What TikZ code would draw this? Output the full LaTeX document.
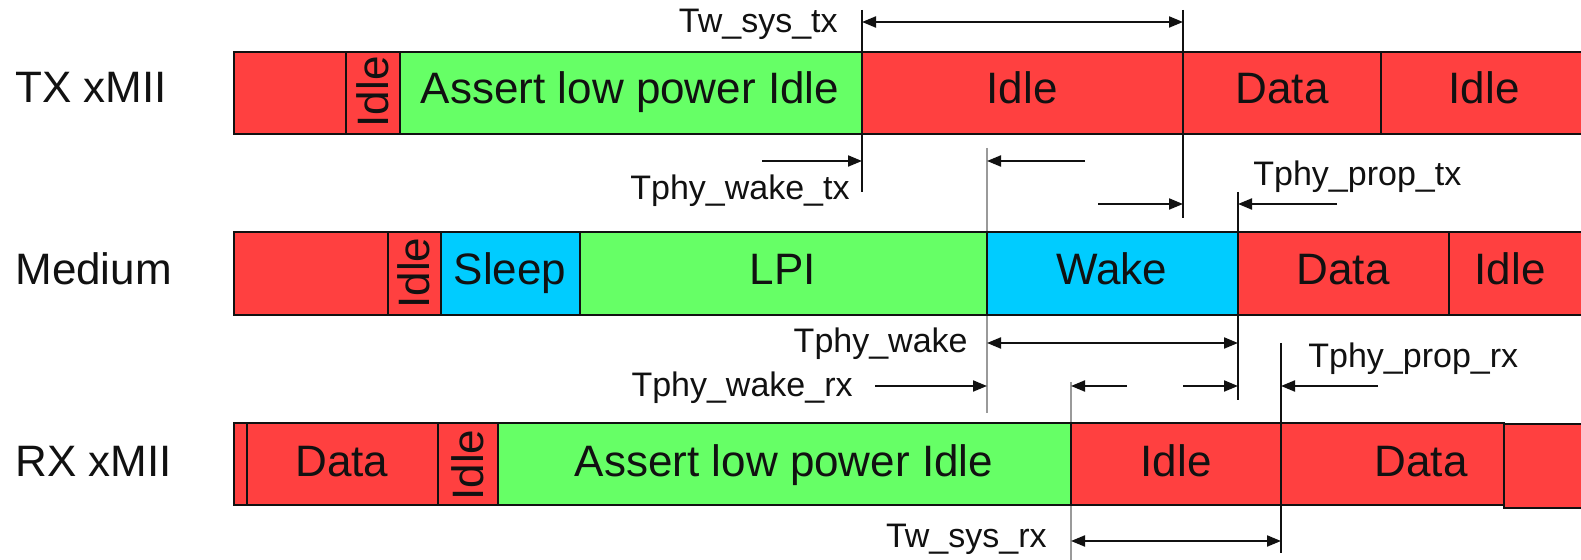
\documentclass[tikz,border=0pt]{standalone}
\usepackage{fontspec}
\setmainfont{Liberation Sans}
\usetikzlibrary{arrows.meta}
\definecolor{idlered}{HTML}{FF4040}
\definecolor{lpigreen}{HTML}{66FF66}
\definecolor{wakecyan}{HTML}{00CCFF}
\definecolor{ink}{HTML}{111111}
\definecolor{guide}{HTML}{9A9A9A}
\newcommand{\boxfont}{\fontsize{22}{26}\selectfont}
\newcommand{\tagfont}{\fontsize{17}{20}\selectfont}

\begin{document}
\begin{tikzpicture}[x=0.5pt,y=-0.5pt,font=\boxfont,
  seg/.style={draw=ink,line width=1pt},
  edge/.style={ink,line width=1pt},
  guideline/.style={guide,line width=1.2pt},
  dim/.style={ink,line width=1pt,-{Triangle[length=7pt,width=5.5pt]}},
  dimboth/.style={ink,line width=1pt,{Triangle[length=7pt,width=5.5pt]}-{Triangle[length=7pt,width=5.5pt]}},
  tag/.style={inner sep=0,font=\tagfont,text=ink},
  lbl/.style={inner sep=0,text=ink}]
\useasboundingbox (0,0) rectangle (1581,560);
% timing marks
\coordinate (t1a) at (862,10);   \coordinate (t1b) at (862,192);
\coordinate (t2a) at (1183,10);  \coordinate (t2b) at (1183,218);
\coordinate (g1a) at (987,148);  \coordinate (g1b) at (987,413);
\coordinate (t3a) at (1238,192); \coordinate (t3b) at (1238,400);
\coordinate (g2a) at (1071,382); \coordinate (g2b) at (1071,560);
\coordinate (t4a) at (1281,343); \coordinate (t4b) at (1281,553);
\draw[edge] (t1a) -- (t1b);
\draw[edge] (t2a) -- (t2b);
\draw[guideline] (g1a) -- (g1b);
\draw[edge] (t3a) -- (t3b);
\draw[guideline] (g2a) -- (g2b);
\draw[edge] (t4a) -- (t4b);
% row labels
\node[lbl,anchor=base west] (rowtx) at (15,103) {TX xMII};
\node[lbl,anchor=base west] (rowmed) at (15,285) {Medium};
\node[lbl,anchor=base west] (rowrx) at (15,477) {RX xMII};
% TX xMII
\filldraw[seg,fill=idlered] (234,52) rectangle (346,134);
\filldraw[seg,fill=idlered] (346,52) rectangle (400,134);
\node[lbl,rotate=90] (txidlea) at (373,92) {Idle};
\filldraw[seg,fill=lpigreen] (400,52) rectangle (862,134);
\node[lbl,anchor=base] (txlpi) at (630,104) {Assert low power Idle};
\filldraw[seg,fill=idlered] (862,52) rectangle (1183,134);
\node[lbl,anchor=base] (txidleb) at (1022,104) {Idle};
\filldraw[seg,fill=idlered] (1183,52) rectangle (1381,134);
\node[lbl,anchor=base] (txdata) at (1282,104) {Data};
\filldraw[seg,fill=idlered] (1381,52) rectangle (1590,134);
\node[lbl,anchor=base] (txidlec) at (1484,104) {Idle};
% Medium
\filldraw[seg,fill=idlered] (234,232) rectangle (388,315);
\filldraw[seg,fill=idlered] (388,232) rectangle (441,315);
\node[lbl,rotate=90] (medidlea) at (414,273) {Idle};
\filldraw[seg,fill=wakecyan] (441,232) rectangle (580,315);
\node[lbl,anchor=base] (medsleep) at (510,285) {Sleep};
\filldraw[seg,fill=lpigreen] (580,232) rectangle (987,315);
\node[lbl,anchor=base] (medlpi) at (783,285) {LPI};
\filldraw[seg,fill=wakecyan] (987,232) rectangle (1238,315);
\node[lbl,anchor=base] (medwake) at (1112,285) {Wake};
\filldraw[seg,fill=idlered] (1238,232) rectangle (1449,315);
\node[lbl,anchor=base] (meddata) at (1343,285) {Data};
\filldraw[seg,fill=idlered] (1449,232) rectangle (1590,315);
\node[lbl,anchor=base] (medidleb) at (1510,285) {Idle};
% RX xMII
\filldraw[seg,fill=idlered] (234,423) rectangle (247,505);
\filldraw[seg,fill=idlered] (247,423) rectangle (438,505);
\node[lbl,anchor=base] (rxdataa) at (342,477) {Data};
\filldraw[seg,fill=idlered] (438,423) rectangle (498,505);
\node[lbl,rotate=90] (rxidlea) at (468,465) {Idle};
\filldraw[seg,fill=lpigreen] (498,423) rectangle (1071,505);
\node[lbl,anchor=base] (rxlpi) at (784,477) {Assert low power Idle};
\filldraw[seg,fill=idlered] (1071,423) rectangle (1281,505);
\node[lbl,anchor=base] (rxidleb) at (1176,477) {Idle};
\filldraw[seg,fill=idlered] (1281,423) rectangle (1504,505);
\node[lbl,anchor=base] (rxdatab) at (1421,477) {Data};
\filldraw[seg,fill=idlered] (1504,424) rectangle (1590,508);
% arrow ends
\coordinate (systxl) at (862,22);  \coordinate (systxr) at (1183,22);
\coordinate (waketxa) at (762,161); \coordinate (waketxb) at (862,161);
\coordinate (retla) at (1085,161); \coordinate (retlb) at (987,161);
\coordinate (retra) at (1098,204); \coordinate (retrb) at (1183,204);
\coordinate (proptxa) at (1337,204); \coordinate (proptxb) at (1238,204);
\coordinate (wakel) at (987,343);  \coordinate (waker) at (1238,343);
\coordinate (wakerxa) at (875,386); \coordinate (wakerxb) at (987,386);
\coordinate (rxla) at (1127,386); \coordinate (rxlb) at (1071,386);
\coordinate (rxra) at (1183,386); \coordinate (rxrb) at (1238,386);
\coordinate (proprxa) at (1378,386); \coordinate (proprxb) at (1281,386);
\coordinate (sysrxl) at (1071,541); \coordinate (sysrxr) at (1281,541);
\draw[dimboth] (systxl) -- (systxr);
\draw[dim] (waketxa) -- (waketxb);
\draw[dim] (retla) -- (retlb);
\draw[dim] (retra) -- (retrb);
\draw[dim] (proptxa) -- (proptxb);
\draw[dimboth] (wakel) -- (waker);
\draw[dim] (wakerxa) -- (wakerxb);
\draw[dim] (rxla) -- (rxlb);
\draw[dim] (rxra) -- (rxrb);
\draw[dim] (proprxa) -- (proprxb);
\draw[dimboth] (sysrxl) -- (sysrxr);
% timing labels
\node[tag,anchor=base east] (lsystx) at (838,33) {Tw\_sys\_tx};
\node[tag,anchor=base east] (lwaketx) at (850,200) {Tphy\_wake\_tx};
\node[tag,anchor=base west] (lproptx) at (1253,186) {Tphy\_prop\_tx};
\node[tag,anchor=base east] (lwake) at (968,353) {Tphy\_wake};
\node[tag,anchor=base east] (lwakerx) at (853,397) {Tphy\_wake\_rx};
\node[tag,anchor=base west] (lproprx) at (1308,368) {Tphy\_prop\_rx};
\node[tag,anchor=base east] (lsysrx) at (1047,548) {Tw\_sys\_rx};
\end{tikzpicture}
\end{document}
